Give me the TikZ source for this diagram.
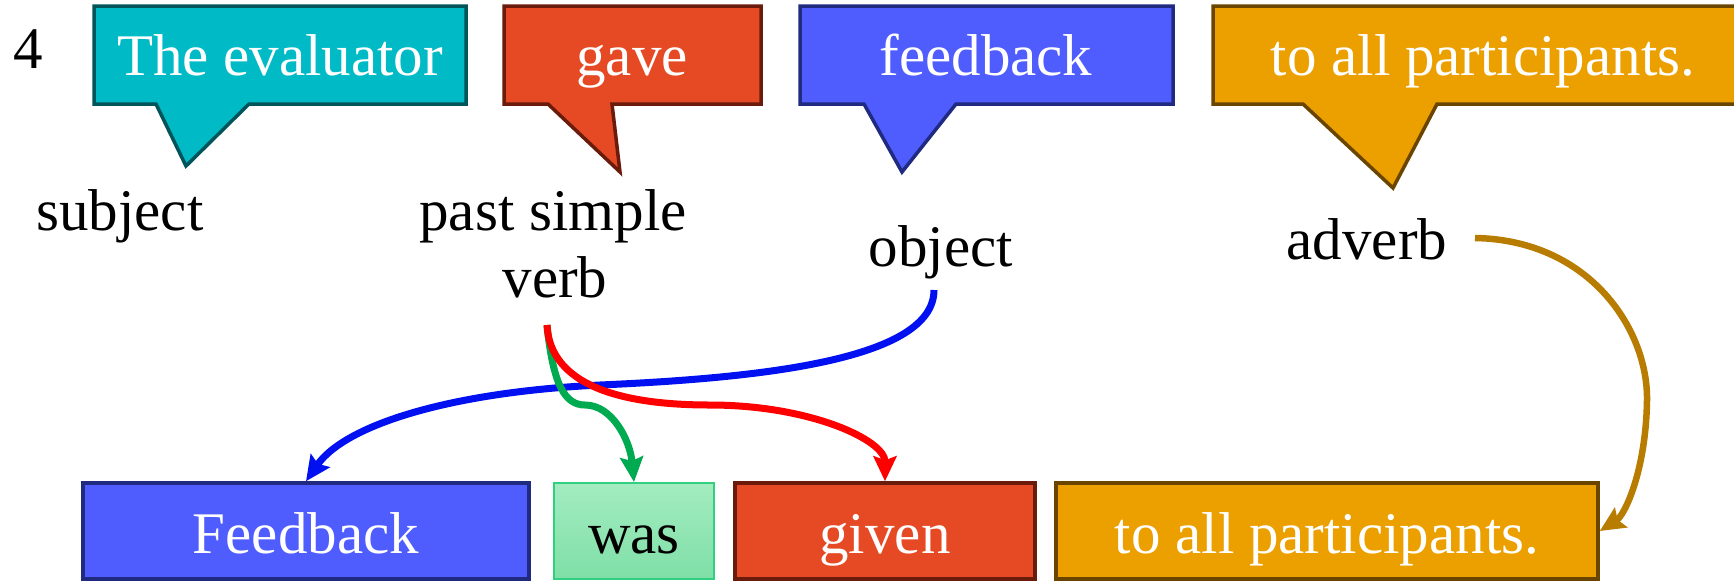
\documentclass[tikz,border=0pt]{standalone}
\usepackage{fontspec}
\setmainfont{Liberation Serif}
\usetikzlibrary{arrows.meta}
\definecolor{tealfill}{RGB}{0,186,198}
\definecolor{tealline}{RGB}{0,84,90}
\definecolor{redfill}{RGB}{230,74,37}
\definecolor{redline}{RGB}{107,27,12}
\definecolor{bluefill}{RGB}{79,93,255}
\definecolor{blueline}{RGB}{31,42,128}
\definecolor{orfill}{RGB}{235,160,0}
\definecolor{orline}{RGB}{106,69,0}
\definecolor{wastop}{RGB}{163,236,192}
\definecolor{wasbot}{RGB}{127,223,167}
\definecolor{wasline}{RGB}{48,208,128}
\definecolor{arrblue}{RGB}{0,16,240}
\definecolor{arrred}{RGB}{255,0,0}
\definecolor{arrgreen}{RGB}{0,170,80}
\definecolor{arrgold}{RGB}{184,124,0}
\begin{document}
\begin{tikzpicture}[x=1pt,y=-1pt,
  txt/.style={font=\fontsize{59pt}{70pt}\selectfont, inner sep=0pt, anchor=base},
  wtxt/.style={txt,text=white},
  callout/.style={line width=3.5pt, line join=miter},
  wordbox/.style={wtxt, text height=70pt, text depth=26pt, line width=3.5pt},
  arr/.style={line width=7pt, -{Stealth[length=25pt,width=23pt,inset=4pt]}},
]
\useasboundingbox (0,0) rectangle (1734,582);
\fill[white] (0,0) rectangle (1734,582);

% speech bubbles
\filldraw[callout, fill=tealfill, draw=tealline] (94,6) -- (466,6) -- (466,104) -- (249,104) -- (186,166) -- (156,104) -- (94,104) -- cycle;
\filldraw[callout, fill=redfill, draw=redline] (504,6) -- (761,6) -- (761,104) -- (612,104) -- (620,172) -- (548,104) -- (504,104) -- cycle;
\filldraw[callout, fill=bluefill, draw=blueline] (800,6) -- (1173,6) -- (1173,104) -- (956,104) -- (902,172) -- (864,104) -- (800,104) -- cycle;
\filldraw[callout, fill=orfill, draw=orline] (1213,6) -- (1752,6) -- (1752,104) -- (1437,104) -- (1393,188) -- (1303,104) -- (1213,104) -- cycle;

\node[txt] (num) at (28,68) {4};
\node[wtxt] (c1) at (280,75) {The evaluator};
\node[wtxt] (c2) at (632,75) {gave};
\node[wtxt] (c3) at (986,75) {feedback};
\node[wtxt] (c4) at (1483,75) {to all participants.};

% labels
\node[txt] (subj) at (120,230) {subject};
\node[txt] (psv) at (553,230) {past simple};
\node[txt] (verb) at (555,297) {verb};
\node[txt] (obj) at (941,266) {object};
\node[txt] (adv) at (1367,259) {adverb};

% passive sentence
\node[wordbox, fill=bluefill, draw=blueline, minimum width=446pt] (fb) at (306,553) {Feedback};
\node[wordbox, text=black, top color=wastop, bottom color=wasbot, draw=wasline, line width=2pt, minimum width=160pt] (was) at (634,553) {was};
\node[wordbox, fill=redfill, draw=redline, minimum width=300pt] (given) at (885,553) {given};
\node[wordbox, fill=orfill, draw=orline, minimum width=542pt] (adv2) at (1327,553) {to all participants.};

% arrows
\coordinate (bstart) at (934,290);
\coordinate (vstart) at (547,325);
\coordinate (astart) at (1475,238);
\draw[arr, arrblue] (bstart) .. controls (934,360) and (760,378) .. (600,385) .. controls (450,392) and (345,425) .. (fb.north);
\draw[arr, arrgreen] (vstart) .. controls (553,385) and (565,405) .. (585,405) .. controls (612,405) and (630,440) .. (was.north);
\draw[arr, arrred] (vstart) .. controls (550,385) and (620,405) .. (710,405) .. controls (810,405) and (885,440) .. (given.north);
\draw[arr, arrgold, line width=6.5pt] (astart) .. controls (1590,240) and (1648,330) .. (1647,400) .. controls (1646,470) and (1625,515) .. (adv2.east);
\end{tikzpicture}
\end{document}
